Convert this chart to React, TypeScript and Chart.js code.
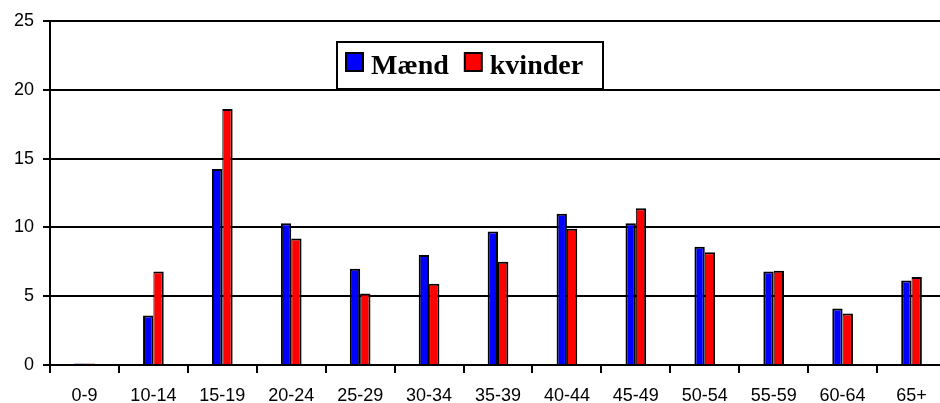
import React, { useEffect, useRef } from "react";
import { Chart, registerables } from "chart.js";

Chart.register(...registerables);

const categories = ["0-9", "10-14", "15-19", "20-24", "25-29", "30-34", "35-39", "40-44", "45-49", "50-54", "55-59", "60-64", "65+"];
const maend = [0.1, 3.6, 14.25, 10.3, 7.0, 8.0, 9.7, 11.0, 10.3, 8.6, 6.8, 4.1, 6.15];
const kvinder = [0.1, 6.8, 18.6, 9.2, 5.2, 5.9, 7.5, 9.9, 11.4, 8.2, 6.85, 3.75, 6.4];
const yTicks = [0, 5, 10, 15, 20, 25];

const legendPlugin = {
  id: "boxLegend",
  afterDraw(chart: any) {
    const ctx = chart.ctx;
    ctx.save();
    const x = 337, y = 42, w = 266, h = 47;
    ctx.fillStyle = "#ffffff";
    ctx.fillRect(x, y, w, h);
    ctx.lineWidth = 2;
    ctx.strokeStyle = "#000000";
    ctx.strokeRect(x, y, w, h);
    ctx.font = "bold 28px 'Liberation Serif', 'Times New Roman', serif";
    ctx.textBaseline = "alphabetic";
    let cx = x + 9;
    chart.data.datasets.forEach((ds: any) => {
      ctx.fillStyle = ds.backgroundColor;
      ctx.fillRect(cx, y + 11, 17, 18);
      ctx.lineWidth = 2;
      ctx.strokeStyle = "#000";
      ctx.strokeRect(cx, y + 11, 17, 18);
      cx += 25;
      ctx.fillStyle = "#000";
      ctx.fillText(ds.label, cx, y + 32);
      cx += ctx.measureText(ds.label).width + 16;
    });
    ctx.restore();
  },
};

export default function App() {
  const ref = useRef<HTMLCanvasElement | null>(null);
  useEffect(() => {
    document.body.style.margin = "0";
    const chart = new Chart(ref.current as HTMLCanvasElement, {
      type: "bar",
      data: {
        labels: categories,
        datasets: [
          { label: "Mænd", data: maend, backgroundColor: "#0000ff", borderColor: "#000000", borderWidth: { top: 2, left: 2, right: 2, bottom: 0 }, borderSkipped: false },
          { label: "kvinder", data: kvinder, backgroundColor: "#ff0000", borderColor: "#000000", borderWidth: { top: 2, left: 1, right: 2, bottom: 0 }, borderSkipped: false },
        ],
      },
      options: {
        responsive: false,
        animation: false,
        layout: { padding: { top: 21, right: 0, bottom: 0, left: 0 } },
        datasets: { bar: { categoryPercentage: 0.3, barPercentage: 1 } },
        plugins: { legend: { display: false }, tooltip: { enabled: false } },
        scales: {
          x: {
            grid: { offset: true, drawOnChartArea: false, drawTicks: true, tickLength: 8, color: "#000", lineWidth: 2 },
            border: { color: "#000", width: 2 },
            ticks: { color: "#000", padding: 12, font: { family: "'Liberation Sans', Arial, sans-serif", size: 18 } },
            afterFit: (s: any) => { s.height = 38; },
          },
          y: {
            min: 0,
            max: 25,
            afterBuildTicks: (s: any) => { s.ticks = yTicks.map((v) => ({ value: v })); },
            grid: { color: "#000", lineWidth: 2, tickLength: 7 },
            border: { color: "#000", width: 2 },
            ticks: { color: "#000", padding: 9, font: { family: "'Liberation Sans', Arial, sans-serif", size: 18 } },
            afterFit: (s: any) => { s.width = 50; },
          },
        },
      },
      plugins: [legendPlugin],
    });
    return () => chart.destroy();
  }, []);
  return (
    <div style={{ width: 940, height: 403, overflow: "hidden", background: "#fff" }}>
      <canvas ref={ref} width={946} height={403} style={{ display: "block" }} />
    </div>
  );
}
